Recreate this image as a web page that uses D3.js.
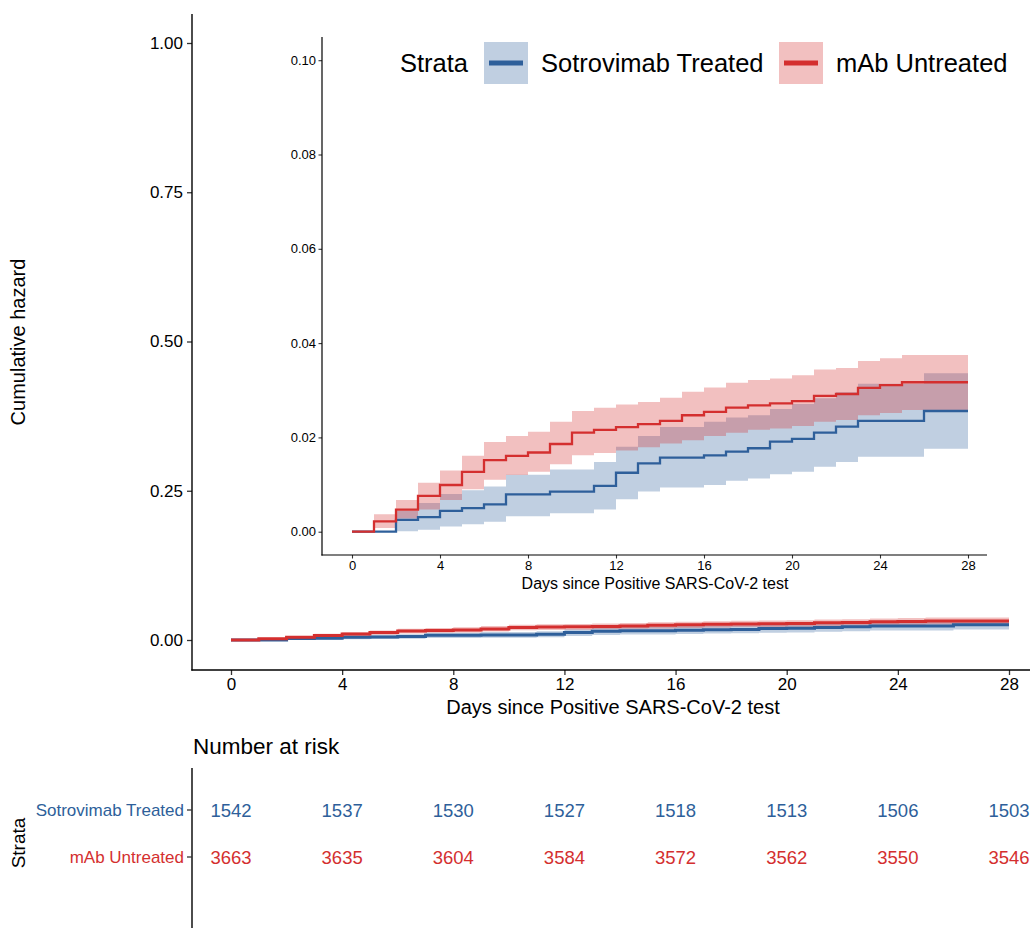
<!DOCTYPE html>
<html>
<head>
<meta charset="utf-8">
<script src="https://cdn.jsdelivr.net/npm/d3@7"></script>
<style>
  body { margin: 0; background: #fff; }
  svg { display: block; font-family: "Liberation Sans", Arial, sans-serif; }
</style>
</head>
<body>
<svg id="chart" width="1030" height="928"></svg>
<script>
// ---------------- data ----------------
const days = d3.range(0, 29);
const strata = ["Sotrovimab Treated", "mAb Untreated"];
const colors = ["#2E5F9A", "#D42F2F"];

const sotroHaz = [0,0,0.0025,0.0031,0.0044,0.0050,0.0058,0.0079,0.0079,0.0085,0.0085,0.0097,0.0125,0.0145,0.0157,0.0157,0.0162,0.0170,0.0177,0.0191,0.0197,0.0210,0.0223,0.0235,0.0235,0.0235,0.0256,0.0256,0.0256];
const sotroLow = [0,0,0.0001,0.0004,0.0011,0.0016,0.0021,0.0033,0.0033,0.0039,0.0039,0.0047,0.0069,0.0085,0.0094,0.0094,0.0099,0.0108,0.0113,0.0122,0.0127,0.0138,0.0148,0.0159,0.0159,0.0159,0.0176,0.0176,0.0176];
const sotroHigh = [0,0,0.0044,0.0061,0.0080,0.0088,0.0096,0.0121,0.0121,0.0132,0.0132,0.0148,0.0180,0.0203,0.0222,0.0222,0.0233,0.0242,0.0247,0.0260,0.0271,0.0283,0.0296,0.0314,0.0314,0.0314,0.0336,0.0336,0.0336];

const mabHaz = [0,0.0022,0.0047,0.0076,0.0099,0.0127,0.0152,0.0161,0.0168,0.0186,0.0210,0.0216,0.0222,0.0228,0.0235,0.0247,0.0254,0.0263,0.0268,0.0272,0.0277,0.0288,0.0292,0.0305,0.0311,0.0317,0.0317,0.0317,0.0317];
const mabLow = [0,0.0008,0.0028,0.0047,0.0067,0.0090,0.0110,0.0120,0.0127,0.0143,0.0162,0.0167,0.0172,0.0179,0.0187,0.0194,0.0203,0.0210,0.0216,0.0219,0.0224,0.0233,0.0237,0.0247,0.0252,0.0258,0.0258,0.0258,0.0258];
const mabHigh = [0,0.0037,0.0067,0.0104,0.0130,0.0161,0.0190,0.0203,0.0212,0.0233,0.0256,0.0263,0.0270,0.0275,0.0284,0.0297,0.0306,0.0316,0.0322,0.0325,0.0332,0.0344,0.0347,0.0362,0.0368,0.0375,0.0375,0.0375,0.0375];

const xTicks = [0,4,8,12,16,20,24,28];
const mainYTicks = [0,0.25,0.5,0.75,1];
const insetYTicks = [0,0.02,0.04,0.06,0.08,0.10];
const riskSotro = [1542,1537,1530,1527,1518,1513,1506,1503];
const riskMab = [3663,3635,3604,3584,3572,3562,3550,3546];

const series = [
  {name: strata[0], color: colors[0], haz: sotroHaz, low: sotroLow, high: sotroHigh},
  {name: strata[1], color: colors[1], haz: mabHaz, low: mabLow, high: mabHigh}
];

// ---------------- drawing ----------------
const svg = d3.select("#chart");

function drawCurves(g, x, y, lw) {
  series.forEach(s => {
    const pts = days.map((d, i) => ({d, h: s.haz[i], lo: s.low[i], hi: s.high[i]}));
    g.append("path")
      .attr("d", d3.area().curve(d3.curveStepAfter)
        .x(p => x(p.d)).y0(p => y(p.lo)).y1(p => y(p.hi))(pts))
      .attr("fill", s.color).attr("fill-opacity", 0.3).attr("stroke", "none");
  });
  series.forEach(s => {
    const pts = days.map((d, i) => ({d, h: s.haz[i]}));
    g.append("path")
      .attr("d", d3.line().curve(d3.curveStepAfter).x(p => x(p.d)).y(p => y(p.h))(pts))
      .attr("fill", "none").attr("stroke", s.color).attr("stroke-width", lw);
  });
}

// ---- main plot ----
const xMain = d3.scaleLinear().domain([0, 28]).range([231, 1009]);
const yMain = d3.scaleLinear().domain([0, 1]).range([640, 43]);
const gMain = svg.append("g");
drawCurves(gMain, xMain, yMain, 3);

const yAxisMain = gMain.append("g").attr("transform", "translate(192,0)")
  .call(d3.axisLeft(yMain).tickValues(mainYTicks).tickFormat(d3.format(".2f")).tickSize(5).tickPadding(4));
const xAxisMain = gMain.append("g").attr("transform", "translate(0,670)")
  .call(d3.axisBottom(xMain).tickValues(xTicks).tickSize(5).tickPadding(3));
[yAxisMain, xAxisMain].forEach(a => {
  a.select(".domain").remove();
  a.selectAll("text").attr("font-size", 17).attr("fill", "#000").attr("font-family", "Liberation Sans, Arial, sans-serif");
  a.selectAll("line").attr("stroke", "#333").attr("stroke-width", 1.3);
});
gMain.append("line").attr("x1", 192).attr("x2", 192).attr("y1", 14).attr("y2", 670.5).attr("stroke", "#000").attr("stroke-width", 1.4);
gMain.append("line").attr("x1", 191.3).attr("x2", 1030).attr("y1", 670).attr("y2", 670).attr("stroke", "#000").attr("stroke-width", 1.4);

gMain.append("text").attr("x", 613).attr("y", 714).attr("text-anchor", "middle")
  .attr("font-size", 20).text("Days since Positive SARS-CoV-2 test");
gMain.append("text").attr("transform", "translate(25,342) rotate(-90)").attr("text-anchor", "middle")
  .attr("font-size", 20).text("Cumulative hazard");

// ---- inset ----
const xIn = d3.scaleLinear().domain([0, 28]).range([352, 968]);
const yIn = d3.scaleLinear().domain([0, 0.1]).range([531.7, 60.2]);
const gIn = svg.append("g");
drawCurves(gIn, xIn, yIn, 2.3);

const yAxisIn = gIn.append("g").attr("transform", "translate(322,0)")
  .call(d3.axisLeft(yIn).tickValues(insetYTicks).tickFormat(d3.format(".2f")).tickSize(3.5).tickPadding(2.5));
const xAxisIn = gIn.append("g").attr("transform", "translate(0,555)")
  .call(d3.axisBottom(xIn).tickValues(xTicks).tickSize(3.5).tickPadding(2));
[yAxisIn, xAxisIn].forEach(a => {
  a.select(".domain").remove();
  a.selectAll("text").attr("font-size", 13).attr("fill", "#000").attr("font-family", "Liberation Sans, Arial, sans-serif");
  a.selectAll("line").attr("stroke", "#333").attr("stroke-width", 1.1);
});
gIn.append("line").attr("x1", 322).attr("x2", 322).attr("y1", 37).attr("y2", 555.5).attr("stroke", "#000").attr("stroke-width", 1.2);
gIn.append("line").attr("x1", 321.4).attr("x2", 987).attr("y1", 555).attr("y2", 555).attr("stroke", "#000").attr("stroke-width", 1.2);
gIn.append("text").attr("x", 655).attr("y", 589).attr("text-anchor", "middle")
  .attr("font-size", 16).text("Days since Positive SARS-CoV-2 test");

// ---- legend ----
const gLeg = svg.append("g");
gLeg.append("text").attr("x", 400).attr("y", 72).attr("font-size", 25.5).text("Strata");
const legX = [484, 779];
const legTextX = [541, 836];
series.forEach((s, i) => {
  gLeg.append("rect").attr("x", legX[i]).attr("y", 42).attr("width", 44).attr("height", 42)
    .attr("fill", s.color).attr("fill-opacity", 0.3);
  gLeg.append("line").attr("x1", legX[i] + 5).attr("x2", legX[i] + 39).attr("y1", 63).attr("y2", 63)
    .attr("stroke", s.color).attr("stroke-width", 5);
  gLeg.append("text").attr("x", legTextX[i]).attr("y", 72).attr("font-size", 25.5).text(s.name);
});

// ---- risk table ----
const gRisk = svg.append("g");
gRisk.append("text").attr("x", 193).attr("y", 754).attr("font-size", 22.5).text("Number at risk");
gRisk.append("line").attr("x1", 192).attr("x2", 192).attr("y1", 768).attr("y2", 928).attr("stroke", "#000").attr("stroke-width", 1.4);
const rowY = d3.scalePoint().domain(strata).range([810, 857]);
const riskRows = [riskSotro, riskMab];
strata.forEach((name, i) => {
  const yy = rowY(name);
  gRisk.append("line").attr("x1", 187).attr("x2", 192).attr("y1", yy).attr("y2", yy).attr("stroke", "#333").attr("stroke-width", 1.3);
  gRisk.append("text").attr("x", 184).attr("y", yy).attr("dy", "0.35em").attr("text-anchor", "end")
    .attr("font-size", 17).attr("fill", colors[i]).text(name);
  gRisk.selectAll(null).data(riskRows[i]).enter().append("text")
    .attr("x", (d, k) => xMain(xTicks[k])).attr("y", yy + 1).attr("dy", "0.35em")
    .attr("text-anchor", "middle").attr("font-size", 18.5).attr("fill", colors[i]).text(d => d);
});
gRisk.append("text").attr("transform", "translate(25,843) rotate(-90)").attr("text-anchor", "middle")
  .attr("font-size", 19).text("Strata");
</script>
</body>
</html>
